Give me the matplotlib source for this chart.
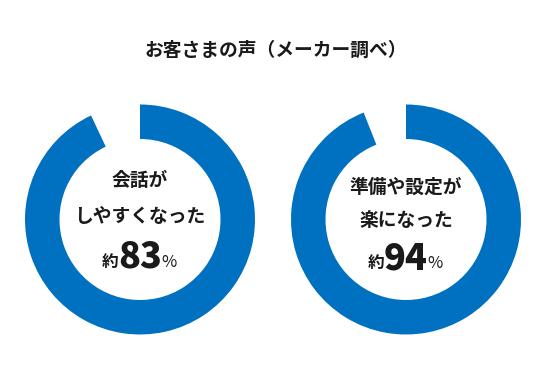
import matplotlib
matplotlib.use("Agg")
import matplotlib.pyplot as plt

# survey results (ring fill as drawn in the picture, label as printed)
title = "お客さまの声（メーカー調べ）"
line1 = ["会話が", "準備や設定が"]
line2 = ["しやすくなった", "楽になった"]
label_pct = ["83", "94"]
ring_fill = [93, 94]

blue = "#0070C0"
txt = "#1a1a1a"

plt.rcParams['font.family'] = ['Noto Sans CJK JP', 'DejaVu Sans']

W, H = 550, 380
fig = plt.figure(figsize=(W / 100, H / 100), dpi=100)
fig.patch.set_facecolor("white")

fig.text(276 / W, 1 - 50 / H, title, ha="center", va="center",
         fontsize=13.5, fontweight="bold", color=txt)

# donut centres / radius in pixels
centers = [(140, 219.5), (406, 219.5)]
r = 115
# text line heights (pixels from top)
rows = [(181, 216, 257), (187, 220, 258)]

for i, (cx, cy) in enumerate(centers):
    ax = fig.add_axes([(cx - r) / W, (H - cy - r) / H, 2 * r / W, 2 * r / H])
    ax.pie([ring_fill[i], 100 - ring_fill[i]], startangle=90, counterclock=False,
           colors=[blue, "none"], wedgeprops=dict(width=0.3, linewidth=0))
    ax.set_xlim(-1, 1)
    ax.set_ylim(-1, 1)
    ax.axis("off")

    y1, y2, y3 = [(cy - y) / r for y in rows[i]]
    ax.text(0, y1, line1[i], ha="center", va="center", fontsize=13.5,
            fontweight="bold", color=txt)
    ax.text(0, y2, line2[i], ha="center", va="center", fontsize=13.5,
            fontweight="bold", color=txt)
    ax.text(0, y3, label_pct[i], ha="center", va="center", fontsize=26,
            fontweight="black", color=txt)
    ax.text(-0.19, y3 - 0.04, "約", ha="right", va="center", fontsize=12,
            fontweight="bold", color=txt)
    ax.text(0.19, y3 - 0.05, "%", ha="left", va="center", fontsize=12,
            color=txt)

fig.savefig("out.png", dpi=100, facecolor="white")
